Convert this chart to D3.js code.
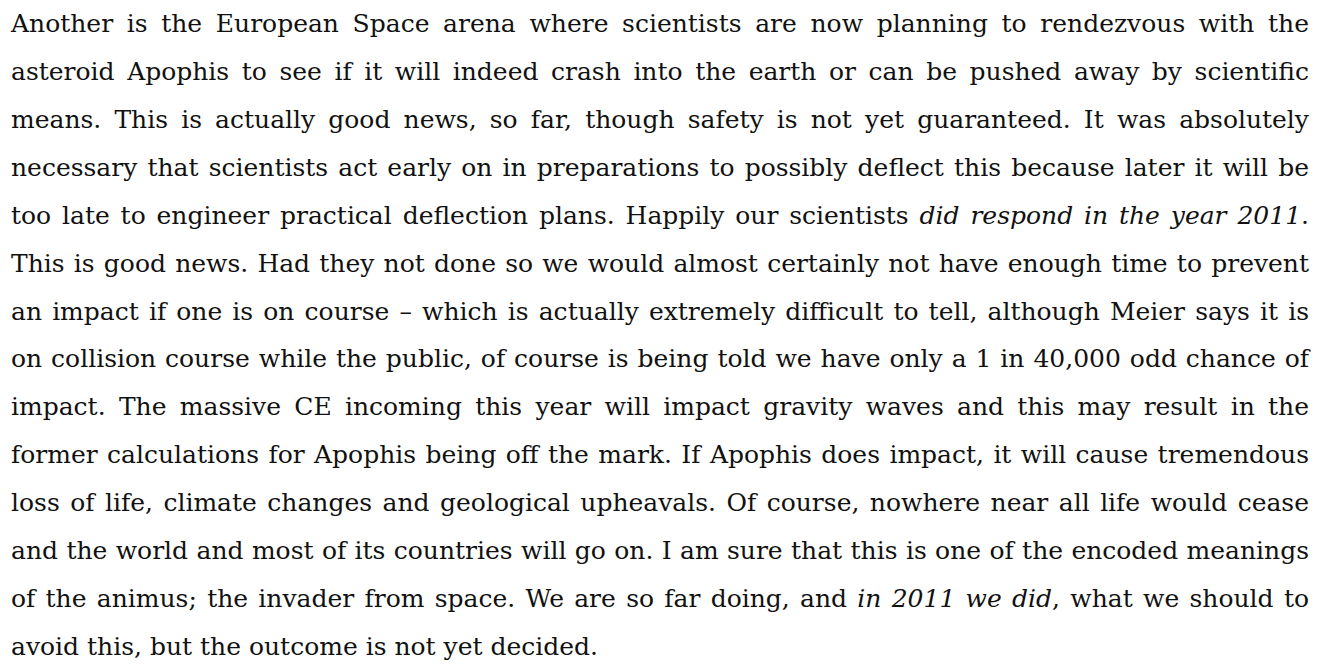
<!DOCTYPE html>
<html>
<head>
<meta charset="utf-8">
<script src="https://cdn.jsdelivr.net/npm/d3@7"></script>
<style>
  html, body { margin: 0; padding: 0; background: #fff; }
  svg { display: block; }
</style>
</head>
<body>
<svg id="page"></svg>
<script>
// text lines as they break in the reference; *...* marks italic runs
const lines = [
  "Another is the European Space arena where scientists are now planning to rendezvous with the",
  "asteroid Apophis to see if it will indeed crash into the earth or can be pushed away by scientific",
  "means. This is actually good news, so far, though safety is not yet guaranteed. It was absolutely",
  "necessary that scientists act early on in preparations to possibly deflect this because later it will be",
  "too late to engineer practical deflection plans. Happily our scientists *did respond in the year 2011*.",
  "This is good news. Had they not done so we would almost certainly not have enough time to prevent",
  "an impact if one is on course \u2013 which is actually extremely difficult to tell, although Meier says it is",
  "on collision course while the public, of course is being told we have only a 1 in 40,000 odd chance of",
  "impact. The massive CE incoming this year will impact gravity waves and this may result in the",
  "former calculations for Apophis being off the mark. If Apophis does impact, it will cause tremendous",
  "loss of life, climate changes and geological upheavals. Of course, nowhere near all life would cease",
  "and the world and most of its countries will go on. I am sure that this is one of the encoded meanings",
  "of the animus; the invader from space. We are so far doing, and *in 2011 we did*, what we should to",
  "avoid this, but the outcome is not yet decided."
];

const W = 1325, H = 664;
const left = 11, right = 1309;
const maxSize = 25;
const fontFamily = "'DejaVu Serif', 'Liberation Serif', 'Times New Roman', serif";

const $svg = d3.select('#page')
  .attr('width', W)
  .attr('height', H)
  .attr('font-family', fontFamily)
  .style('font-family', fontFamily);

// line index -> baseline
const scaleY = d3.scaleLinear()
  .domain([0, lines.length - 1])
  .range([32, 655]);

// split a line into words, each word into styled runs
function parseLine(s) {
  let it = false;
  return s.split(' ').map(w => {
    const runs = [];
    w.split('*').forEach((piece, i) => {
      if (i > 0) it = !it;
      if (piece) runs.push({t: piece, it: it});
    });
    return runs;
  });
}

const parsed = lines.map(parseLine);

const $lines = $svg.selectAll('g.line')
  .data(parsed)
  .enter()
  .append('g')
  .attr('class', 'line')
  .attr('transform', (d, i) => 'translate(0,' + scaleY(i) + ')');

const $words = $lines.selectAll('text')
  .data(d => d)
  .enter()
  .append('text')
  .attr('font-family', fontFamily)
  .attr('fill', '#111')
  .attr('font-size', maxSize);

$words.selectAll('tspan')
  .data(d => d)
  .enter()
  .append('tspan')
  .attr('font-style', d => d.it ? 'italic' : 'normal')
  .text(d => d.t);

// pick a size so every justified line keeps a reasonable gap
let fs = maxSize;
$lines.each(function(d, i) {
  if (i === lines.length - 1) return;
  let sum = 0;
  d3.select(this).selectAll('text').each(function() { sum += this.getComputedTextLength(); });
  const k = sum / maxSize;
  fs = Math.min(fs, (right - left) / (k + (d.length - 1) * 0.26));
});
$words.attr('font-size', fs);

// natural space width for the last (ragged) line
const probe = $svg.append('text').attr('font-size', fs).text('n n');
const probe2 = $svg.append('text').attr('font-size', fs).text('nn');
const spaceW = probe.node().getComputedTextLength() - probe2.node().getComputedTextLength();
probe.remove();
probe2.remove();

$lines.each(function(d, i) {
  const $t = d3.select(this).selectAll('text');
  const widths = [];
  $t.each(function() { widths.push(this.getComputedTextLength()); });
  const total = d3.sum(widths);
  const gap = i === lines.length - 1 ? spaceW : (right - left - total) / (widths.length - 1);
  let x = left;
  $t.attr('x', (w, j) => {
    const pos = x;
    x += widths[j] + gap;
    return pos;
  });
});
</script>
</body>
</html>
